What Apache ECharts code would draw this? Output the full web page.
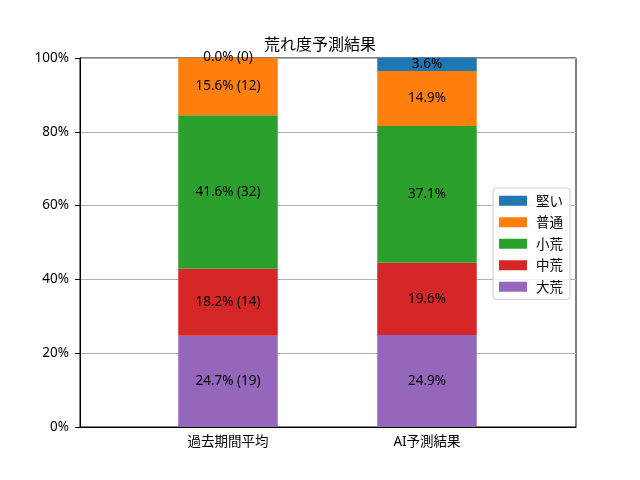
<!DOCTYPE html>
<html><head><meta charset="utf-8">
<script src="https://cdn.jsdelivr.net/npm/echarts@6/dist/echarts.min.js"></script>
<style>html,body{margin:0;padding:0;background:#fff}#c{width:640px;height:480px}</style>
</head><body><div id="c"></div>
<script>
const categories = ['過去期間平均', 'AI予測結果'];
const seriesNames = ['大荒', '中荒', '小荒', '普通', '堅い'];
const colors = ['#9467bd', '#d62728', '#2ca02c', '#ff7f0e', '#1f77b4'];
const daiare = [24.7, 24.9];
const chuare = [18.2, 19.6];
const shoare = [41.6, 37.1];
const futsu = [15.6, 14.9];
const katai = [0.0, 3.6];
const pastCounts = [19, 14, 32, 12, 0];
const yTicks = [0, 20, 40, 60, 80, 100];
const legendOrder = ['堅い', '普通', '小荒', '中荒', '大荒'];

const values = [daiare, chuare, shoare, futsu, katai];
const FONT = '"Noto Sans", "Noto Sans CJK JP", sans-serif';
const CJK = '"Noto Sans CJK JP", sans-serif';

const series = seriesNames.map((name, si) => ({
  name: name,
  type: 'bar',
  stack: 'total',
  xAxisIndex: 1,
  yAxisIndex: 1,
  barWidth: '50%',
  clip: false,
  data: values[si],
  itemStyle: { color: colors[si] },
  label: {
    show: true,
    position: 'inside',
    color: '#000',
    fontSize: 13.5,
    fontFamily: FONT,
    formatter: p => p.dataIndex === 0
      ? p.value.toFixed(1) + '% (' + pastCounts[si] + ')'
      : p.value.toFixed(1) + '%'
  },
  labelLayout: { hideOverlap: false }
}));

const chart = echarts.init(document.getElementById('c'));
chart.setOption({
  animation: false,
  title: {
    text: '荒れ度予測結果', left: 'center', top: 31,
    textStyle: { fontSize: 16, fontWeight: 'normal', color: '#000', fontFamily: CJK }
  },
  legend: {
    data: legendOrder,
    orient: 'vertical',
    right: 70, top: 188,
    itemWidth: 28, itemHeight: 10, itemGap: 8,
    icon: 'rect',
    backgroundColor: 'rgba(255,255,255,0.8)',
    borderColor: '#cccccc', borderWidth: 1, borderRadius: 3,
    padding: [6, 7, 6, 6],
    textStyle: { fontSize: 13.5, color: '#000', fontFamily: CJK, padding: [0, 0, 0, 4] }
  },
  grid: [
    { left: 80, right: 64, top: 58, bottom: 53, show: true, borderColor: '#000', borderWidth: 1, z: 0 },
    { left: 128.5, right: 113.5, top: 58, bottom: 53 }
  ],
  xAxis: [
    { gridIndex: 0, type: 'value', min: 0, max: 1, show: true,
      axisLine: { lineStyle: { color: '#000' } }, axisTick: { show: false },
      axisLabel: { show: false }, splitLine: { show: false } },
    { gridIndex: 1, type: 'category', data: categories,
      axisLine: { show: false },
      axisTick: { alignWithLabel: true, lineStyle: { color: '#000' }, length: 5 },
      axisLabel: { color: '#000', fontSize: 13.5, fontFamily: FONT, margin: 8 } }
  ],
  yAxis: [
    { gridIndex: 0, type: 'value', min: 0, max: 100, interval: 20,
      axisLine: { show: true, lineStyle: { color: '#000' } },
      axisTick: { show: true, lineStyle: { color: '#000' }, length: 5 },
      axisLabel: { color: '#000', fontSize: 13.5, fontFamily: FONT, margin: 11,
        formatter: v => yTicks.includes(v) ? v + '%' : '' },
      splitLine: { show: true, lineStyle: { color: '#b0b0b0', width: 1 } } },
    { gridIndex: 1, type: 'value', min: 0, max: 100, interval: 20, show: false,
      splitLine: { show: false } }
  ],
  series: series
});
</script></body></html>
